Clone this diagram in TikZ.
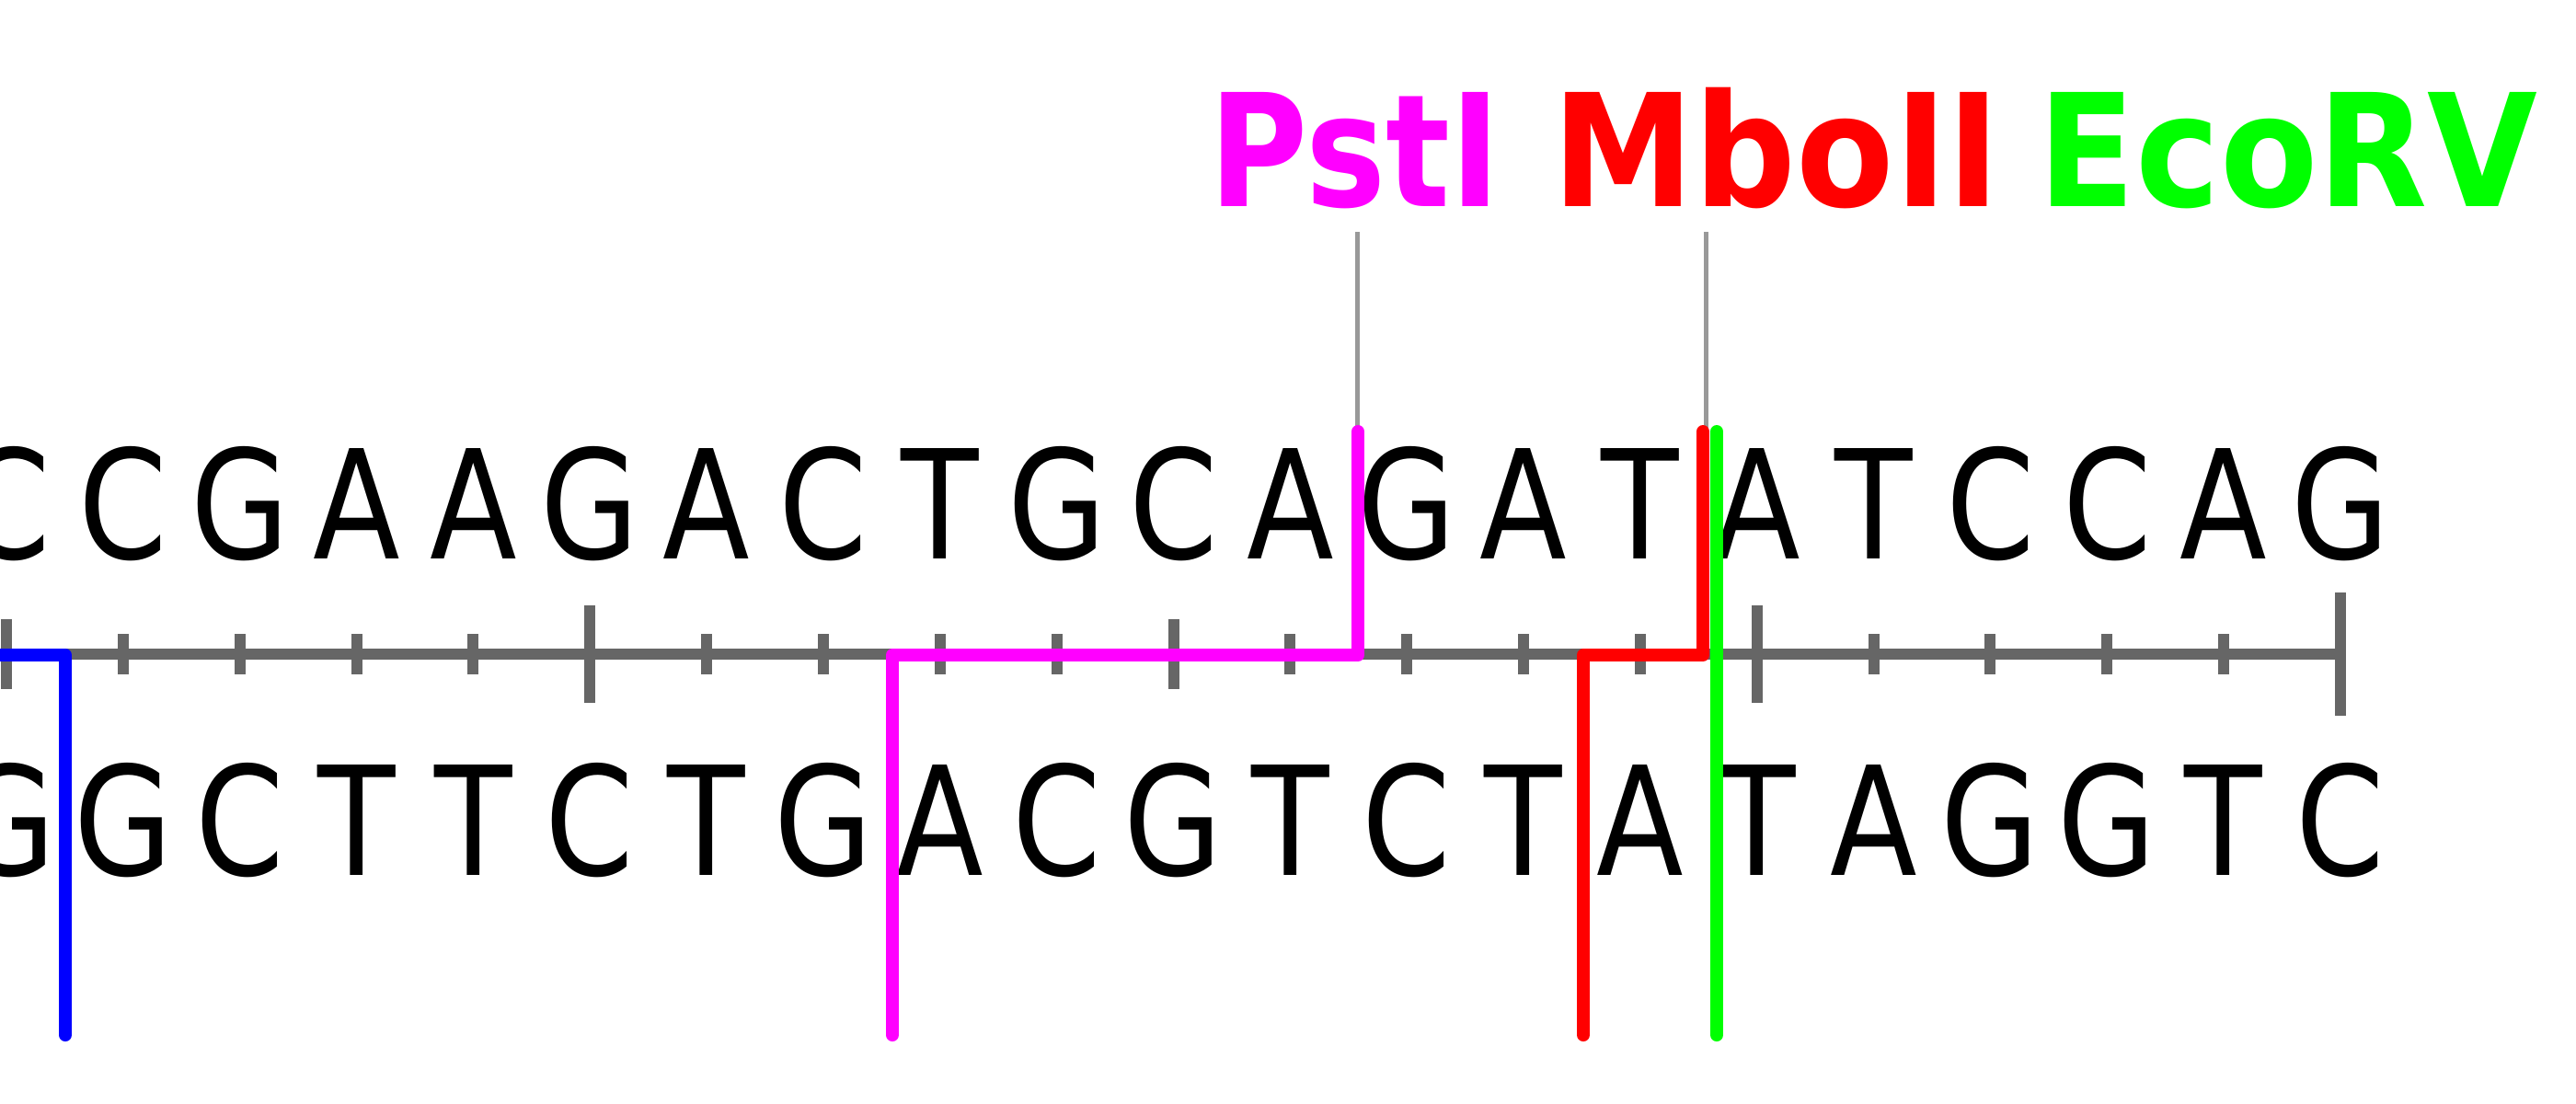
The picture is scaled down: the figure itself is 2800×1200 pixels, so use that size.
\documentclass[tikz,border=0pt]{standalone}
\usepackage{fontspec}
\newfontfamily\seqfont{DejaVu Sans}
\definecolor{rulergray}{HTML}{666666}
\definecolor{pointergray}{HTML}{999999}
\definecolor{cmag}{HTML}{FF00FF}
\definecolor{cred}{HTML}{FF0000}
\definecolor{cgreen}{HTML}{00FF00}
\definecolor{cblue}{HTML}{0000FF}
\newcommand{\sqz}[2]{\scalebox{#1}[1]{#2}}
\begin{document}
\begin{tikzpicture}[x=0.01cm,y=-0.01cm,
  basenode/.style={inner sep=0pt, outer sep=0pt, anchor=base},
  seqletter/.style={basenode, font=\seqfont\fontsize{46.8}{50}\selectfont},
  enzlabel/.style={basenode, font=\seqfont\bfseries\fontsize{48.4}{52}\selectfont},
  cutline/.style={line width=0.14cm, line cap=round, line join=round},
  tickmark/.style={draw=rulergray, line width=0.12cm},
  rulerline/.style={draw=rulergray, line width=0.12cm},
  pointer/.style={draw=pointergray, line width=0.05cm}]
\useasboundingbox (0,0) rectangle (2800,1200);
\clip (0,0) rectangle (2800,1200);
% sequences
\foreach \c [count=\i from 0] in {C,C,G,A,A,G,A,C,T,G,C,A,G,A,T,A,T,C,C,A,G}
  \node[seqletter] (t\i) at ({7+126.85*\i},607) {\sqz{0.84}{\c}};
\foreach \c [count=\i from 0] in {G,G,C,T,T,C,T,G,A,C,G,T,C,T,A,T,A,G,G,T,C}
  \node[seqletter] (b\i) at ({7+126.85*\i},951) {\sqz{0.84}{\c}};
% ruler
\coordinate (rulerL) at (0,711);
\coordinate (rulerR) at (2544,711);
\draw[rulerline] (rulerL) -- (rulerR);
\foreach \i in {0,...,20}{
  \pgfmathsetmacro{\h}{\i==20 ? 67 : (mod(\i,10)==0 ? 38 : (mod(\i,5)==0 ? 53 : 22))}
  \draw[tickmark] ({7+126.85*\i},{711-\h}) -- ({7+126.85*\i},{711+\h});
}
% labels
\node[enzlabel, text=cmag] (pst) at (1473,224) {\sqz{0.86}{PstI}};
\node[enzlabel, text=cred] (mbo) at (1931,224) {\sqz{0.91}{MboII}};
\node[enzlabel, text=cgreen] (eco) at (2487,224) {\sqz{0.91}{EcoRV}};
% pointer lines
\coordinate (pstA) at (1475,252);
\coordinate (pstB) at (1475,466);
\coordinate (mboA) at (1854,252);
\coordinate (mboB) at (1854,466);
\draw[pointer] (pstA) -- (pstB);
\draw[pointer] (mboA) -- (mboB);
% cut lines
\coordinate (blueA) at (-10,712);
\coordinate (blueB) at (71,712);
\coordinate (blueC) at (71,1125);
\draw[cutline, cblue] (blueA) -- (blueB) -- (blueC);
\coordinate (magA) at (1476,469);
\coordinate (magB) at (1476,712);
\coordinate (magC) at (970,712);
\coordinate (magD) at (970,1125);
\draw[cutline, cmag] (magA) -- (magB) -- (magC) -- (magD);
\coordinate (redA) at (1851,469);
\coordinate (redB) at (1851,712);
\coordinate (redC) at (1721,712);
\coordinate (redD) at (1721,1125);
\draw[cutline, cred] (redA) -- (redB) -- (redC) -- (redD);
\coordinate (grnA) at (1866,469);
\coordinate (grnB) at (1866,1125);
\draw[cutline, cgreen] (grnA) -- (grnB);
\end{tikzpicture}
\end{document}
